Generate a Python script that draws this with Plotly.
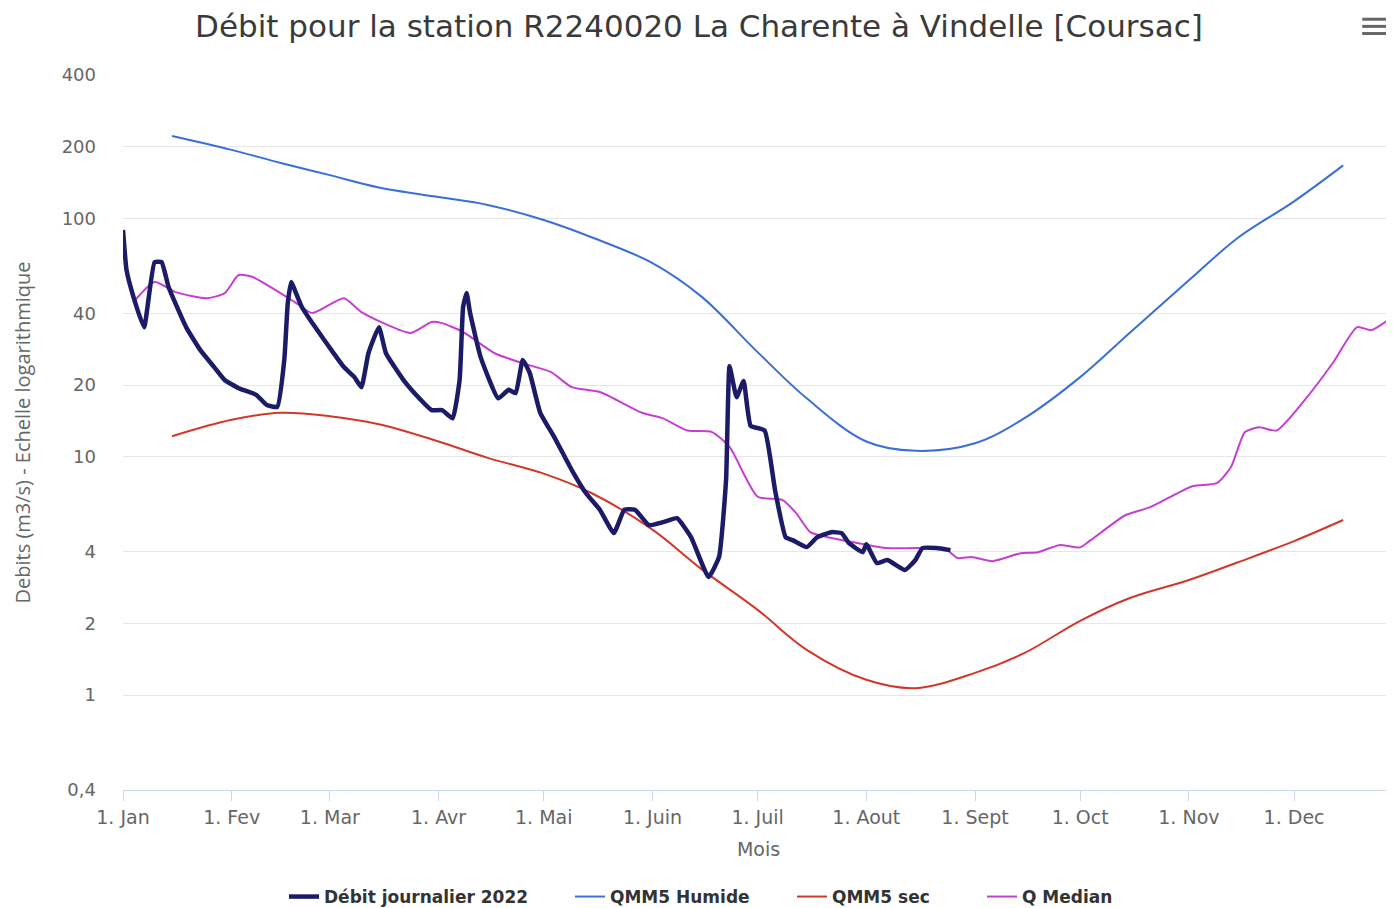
import plotly.graph_objects as go

# ---------------- data ----------------
month_ticks = ["2022-01-01", "2022-02-01", "2022-03-01", "2022-04-01", "2022-05-01", "2022-06-01",
               "2022-07-01", "2022-08-01", "2022-09-01", "2022-10-01", "2022-11-01", "2022-12-01"]
month_labels = ["1. Jan", "1. Fev", "1. Mar", "1. Avr", "1. Mai", "1. Juin",
                "1. Juil", "1. Aout", "1. Sept", "1. Oct", "1. Nov", "1. Dec"]

y_tickvals = [0.4, 1, 2, 4, 10, 20, 40, 100, 200, 400]
y_ticktext = ["0,4", "1", "2", "4", "10", "20", "40", "100", "200", "400"]

debit_dates = ["2022-01-01", "2022-01-02", "2022-01-04", "2022-01-07", "2022-01-10", "2022-01-12",
               "2022-01-14", "2022-01-19", "2022-01-23", "2022-01-27", "2022-01-30", "2022-02-03",
               "2022-02-08", "2022-02-11", "2022-02-14", "2022-02-16", "2022-02-17", "2022-02-18",
               "2022-02-19", "2022-02-21", "2022-02-24", "2022-03-02", "2022-03-05", "2022-03-08",
               "2022-03-10", "2022-03-12", "2022-03-15", "2022-03-17", "2022-03-22", "2022-03-27",
               "2022-03-30", "2022-04-02", "2022-04-05", "2022-04-07", "2022-04-08", "2022-04-09",
               "2022-04-10", "2022-04-13", "2022-04-18", "2022-04-21", "2022-04-23", "2022-04-25",
               "2022-04-27", "2022-04-30", "2022-05-04", "2022-05-09", "2022-05-13", "2022-05-17",
               "2022-05-21", "2022-05-24", "2022-05-27", "2022-05-31", "2022-06-04", "2022-06-08",
               "2022-06-12", "2022-06-17", "2022-06-20", "2022-06-22", "2022-06-23", "2022-06-25",
               "2022-06-27", "2022-06-29", "2022-07-03", "2022-07-06", "2022-07-09", "2022-07-11",
               "2022-07-15", "2022-07-18", "2022-07-22", "2022-07-25", "2022-07-27", "2022-07-31",
               "2022-08-01", "2022-08-04", "2022-08-07", "2022-08-12", "2022-08-15", "2022-08-17",
               "2022-08-21", "2022-08-25"]
debit_values = [89.5, 60.8, 46.8, 35.0, 65.6, 65.6,
                51.6, 35.0, 28.1, 23.8, 21.0, 19.4,
                18.2, 16.5, 16.2, 25.5, 44.2, 54.1,
                50.1, 42.5, 36.4, 27.3, 23.8, 21.6,
                19.6, 27.2, 35.0, 27.2, 21.0, 17.3,
                15.7, 15.7, 14.5, 21.0, 42.5, 48.7,
                40.1, 26.2, 17.6, 19.1, 18.5, 25.5,
                22.5, 15.3, 12.1, 8.8, 7.05, 6.0,
                4.79, 6.0, 6.0, 5.17, 5.32, 5.53,
                4.60, 3.13, 3.80, 8.0, 24.0, 17.8,
                20.8, 13.5, 12.9, 7.2, 4.60, 4.47,
                4.18, 4.60, 4.83, 4.78, 4.35, 3.98,
                4.3, 3.58, 3.69, 3.35, 3.69, 4.14,
                4.14, 4.06]

mid_dates = ["2022-01-15", "2022-02-01", "2022-02-15", "2022-03-01", "2022-03-15", "2022-04-01",
             "2022-04-15", "2022-05-01", "2022-05-15", "2022-06-01", "2022-06-15", "2022-07-01",
             "2022-07-15", "2022-08-01", "2022-08-15", "2022-09-01", "2022-09-15", "2022-10-01",
             "2022-10-15", "2022-11-01", "2022-11-15", "2022-12-01", "2022-12-15"]
qmm5_humide = [222, 194, 171, 152, 135, 123,
               114, 98.5, 83, 65, 47, 27.5,
               17.6, 11.6, 10.6, 11.4, 14.5, 21.6,
               33, 55, 83, 118, 167]
qmm5_sec = [12.2, 14.3, 15.3, 14.8, 13.7, 11.6,
            9.9, 8.5, 7.0, 4.95, 3.38, 2.28,
            1.55, 1.16, 1.07, 1.24, 1.50, 2.05,
            2.55, 3.04, 3.61, 4.43, 5.43]

median_dates = ["2022-01-04", "2022-01-10", "2022-01-16", "2022-01-25", "2022-01-30", "2022-02-03",
                "2022-02-07", "2022-02-19", "2022-02-24", "2022-03-05", "2022-03-10", "2022-03-24",
                "2022-03-30", "2022-04-02", "2022-04-08", "2022-04-17", "2022-04-25", "2022-05-03",
                "2022-05-09", "2022-05-17", "2022-05-29", "2022-06-04", "2022-06-11", "2022-06-18",
                "2022-06-23", "2022-07-01", "2022-07-08", "2022-07-12", "2022-07-16", "2022-07-21",
                "2022-07-28", "2022-08-07", "2022-08-16", "2022-08-24", "2022-08-27", "2022-08-31",
                "2022-09-06", "2022-09-14", "2022-09-19", "2022-09-25", "2022-10-01", "2022-10-04",
                "2022-10-14", "2022-10-21", "2022-11-02", "2022-11-09", "2022-11-13", "2022-11-17",
                "2022-11-21", "2022-11-26", "2022-12-04", "2022-12-12", "2022-12-19", "2022-12-23",
                "2022-12-29"]
q_median = [44.6, 54.1, 49.1, 46.3, 48.6, 57.9,
            56.8, 44.6, 40.1, 46.3, 40.5, 33.1,
            36.8, 36.4, 33.4, 27.2, 24.7, 22.7,
            19.6, 18.7, 15.3, 14.5, 12.9, 12.7,
            11.0, 6.8, 6.6, 5.8, 4.83, 4.60,
            4.39, 4.14, 4.14, 4.06, 3.76, 3.80,
            3.65, 3.94, 3.98, 4.26, 4.17, 4.47,
            5.70, 6.15, 7.53, 7.76, 9.06, 12.7,
            13.3, 12.9, 17.3, 24.7, 35.0, 34.0,
            38.6]

# ---------------- figure ----------------
# the page body adds an 8 px offset; the figure is sized to fill the rest of the window
FIG_W, FIG_H = 1386, 900

fig = go.Figure()
fig.add_trace(go.Scatter(x=mid_dates, y=qmm5_humide, name="QMM5 Humide", mode="lines",
                         legend="legend2",
                         line=dict(color="#3a6fd8", width=2, shape="spline", smoothing=1.0)))
fig.add_trace(go.Scatter(x=mid_dates, y=qmm5_sec, name="QMM5 sec", mode="lines",
                         legend="legend3",
                         line=dict(color="#d0382c", width=2, shape="spline", smoothing=1.0)))
fig.add_trace(go.Scatter(x=median_dates, y=q_median, name="Q Median", mode="lines",
                         legend="legend4",
                         line=dict(color="#c63fd2", width=2, shape="spline", smoothing=0.6)))
fig.add_trace(go.Scatter(x=debit_dates, y=debit_values, name="Débit journalier 2022", mode="lines",
                         legend="legend",
                         line=dict(color="#1b1b68", width=4.5, shape="spline", smoothing=0.4)))

legend_font = dict(family="DejaVu Sans", size=17, color="#333333", weight="bold")


def legend_at(left_px):
    return dict(orientation="h", x=left_px / FIG_W, xref="container", xanchor="left",
                y=1 - 889 / FIG_H, yref="container", yanchor="middle",
                font=legend_font, itemwidth=30, bgcolor="rgba(0,0,0,0)")


fig.update_layout(
    width=FIG_W, height=FIG_H,
    paper_bgcolor="white", plot_bgcolor="white",
    margin=dict(l=115, r=0, t=67, b=118, autoexpand=False),
    font=dict(family="DejaVu Sans", color="#666666"),
    title=dict(text="Débit pour la station R2240020 La Charente à Vindelle [Coursac]",
               x=691 / FIG_W, xref="container", xanchor="center",
               y=1 - 18 / FIG_H, yref="container", yanchor="middle",
               font=dict(family="DejaVu Sans", size=31, color="#3a3a3a")),
    showlegend=True,
    legend=legend_at(276),
    legend2=legend_at(562),
    legend3=legend_at(784),
    legend4=legend_at(974),
    annotations=[dict(text="Debits (m3/s) - Echelle logarithmique", textangle=-90,
                      xref="paper", yref="paper", x=(22 - 123) / 1271, y=0.5,
                      xanchor="center", yanchor="middle", showarrow=False,
                      font=dict(family="Open Sans", size=20, color="#666666"))],
)

fig.update_xaxes(
    type="date", range=["2022-01-01", "2022-12-29 12:00"], automargin=False,
    tickvals=month_ticks, ticktext=month_labels,
    showgrid=False, showline=True, linecolor="#ccd6eb", linewidth=1,
    ticks="outside", ticklen=10, tickcolor="#ccd6eb",
    tickfont=dict(family="DejaVu Sans", size=19, color="#666666"),
    title=dict(text="Mois", font=dict(family="DejaVu Sans", size=19, color="#666666")),
    zeroline=False,
)
fig.update_yaxes(
    type="log", range=[-0.39794, 2.60206], automargin=False,
    tickvals=y_tickvals, ticktext=y_ticktext,
    showgrid=True, gridcolor="#e6e6e6", gridwidth=1,
    showline=False, ticks="", ticklabelstandoff=26,
    tickfont=dict(family="DejaVu Sans", size=18, color="#666666"),
    zeroline=False,
)

# export menu icon (hamburger)
for yy in (1.078, 1.068, 1.058):
    fig.add_shape(type="line", xref="paper", yref="paper", x0=0.975, x1=0.998, y0=yy, y1=yy,
                  line=dict(color="#666666", width=3))

fig.write_html("out.html", config={"displayModeBar": False})
